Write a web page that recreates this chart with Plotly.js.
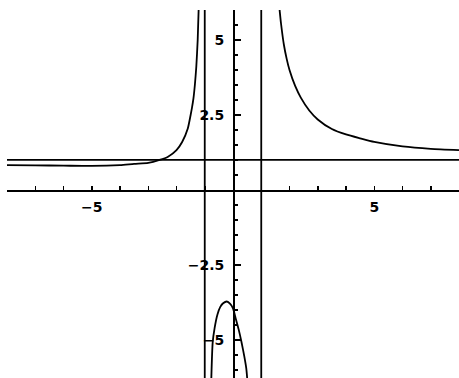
<!DOCTYPE html>
<html>
<head>
<meta charset="utf-8">
<script src="https://cdn.plot.ly/plotly-3.0.1.min.js"></script>
<style>
  html, body { margin: 0; padding: 0; background: #fff; }
  #plot { width: 459px; height: 378px; }
</style>
</head>
<body>
<div id="plot"></div>
<script>
// curve branches
const leftX  = [-8, -7, -6, -5, -4, -3.5, -3.0, -2.6, -2.3, -2.0, -1.8, -1.6, -1.5, -1.45, -1.4, -1.35, -1.3, -1.25, -1.2];
const leftY  = [0.83, 0.82, 0.81, 0.8, 0.83, 0.87, 0.9, 1.0, 1.11, 1.33, 1.6, 2.05, 2.5, 2.75, 3.05, 3.5, 4.1, 5.0, 6.5];

const midX   = [-0.78, -0.72, -0.65, -0.55, -0.45, -0.35, -0.22, -0.1, 0.0, 0.1, 0.2, 0.3, 0.4, 0.47, 0.53];
const midY   = [-6.7, -5.1, -4.6, -4.15, -3.9, -3.78, -3.72, -3.8, -3.95, -4.3, -4.65, -5.07, -5.55, -5.95, -6.6];

const rightX = [1.6, 1.65, 1.7, 1.8, 1.9, 2.0, 2.2, 2.4, 2.7, 3.0, 3.5, 4.0, 4.5, 5.0, 6.0, 7.0, 8.0];
const rightY = [6.5, 6.0, 5.55, 4.85, 4.37, 4.0, 3.47, 3.08, 2.65, 2.35, 2.03, 1.85, 1.72, 1.6, 1.45, 1.37, 1.33];

// asymptotes
const vertAsym = [-1, 1];
const horizAsym = 1;

// axis ranges and ticks
const xRange = [-8, 8];
const yRange = [-6.27, 6];
const xTickVals = [-5, 5];
const xTickText = ['\u22125', '5'];
const yTickVals = [-5, -2.5, 2.5, 5];
const yTickText = ['\u22125', '\u22122.5', '2.5', '5'];
const xMinorVals = [-8, -7, -6, -4, -3, -2, -1, 1, 2, 3, 4, 6, 7, 8];
const yMinorVals = [-6, -5.5, -4.5, -4, -3.5, -3, -2, -1.5, -1, -0.5, 0.5, 1, 1.5, 2, 3, 3.5, 4, 4.5, 5.5];

const ink = '#000';
const lw = 1.8;

const traces = [];

[[leftX, leftY], [midX, midY], [rightX, rightY]].forEach(([xs, ys]) => {
    traces.push({
        x: xs, y: ys,
        mode: 'lines',
        line: { color: ink, width: lw, shape: 'spline', smoothing: 0.6 },
        hoverinfo: 'skip',
        type: 'scatter',
    });
});

// vertical asymptotes
for (const a of vertAsym) {
    traces.push({
        x: [a, a], y: [yRange[0] - 1, yRange[1] + 1],
        mode: 'lines', line: { color: ink, width: lw }, hoverinfo: 'skip', type: 'scatter',
    });
}
// horizontal asymptote
traces.push({
    x: xRange, y: [horizAsym, horizAsym],
    mode: 'lines', line: { color: ink, width: lw }, hoverinfo: 'skip', type: 'scatter',
});

const tickFont = { family: 'DejaVu Sans', size: 14, color: ink, weight: 'bold' };

const layout = {
    width: 459,
    height: 378,
    margin: { l: 7, r: 0, t: 10, b: 0 },
    paper_bgcolor: '#fff',
    plot_bgcolor: '#fff',
    showlegend: false,
    xaxis: {
        range: xRange,
        anchor: 'free',
        position: (0 - yRange[0]) / (yRange[1] - yRange[0]),
        showline: true, linecolor: ink, linewidth: lw,
        showgrid: false, zeroline: false,
        tickmode: 'array', tickvals: xTickVals, ticktext: xTickText,
        ticks: 'inside', ticklen: 4, tickwidth: 1.5, tickcolor: ink,
        ticklabelstandoff: 3,
        minor: { tickmode: 'array', tickvals: xMinorVals, ticks: 'inside', ticklen: 4, tickwidth: 1.5, tickcolor: ink, showgrid: false },
        tickfont: tickFont,
        fixedrange: true,
    },
    yaxis: {
        range: yRange,
        anchor: 'free',
        position: (0 - xRange[0]) / (xRange[1] - xRange[0]),
        showline: true, linecolor: ink, linewidth: lw,
        showgrid: false, zeroline: false,
        tickmode: 'array', tickvals: yTickVals, ticktext: yTickText,
        ticks: 'inside', ticklen: 6, tickwidth: 1.5, tickcolor: ink,
        ticklabelstandoff: 6,
        minor: { tickmode: 'array', tickvals: yMinorVals, ticks: 'inside', ticklen: 3.5, tickwidth: 1.5, tickcolor: ink, showgrid: false },
        tickfont: tickFont,
        fixedrange: true,
    },
};

Plotly.newPlot('plot', traces, layout, { staticPlot: true, displayModeBar: false });
</script>
</body>
</html>
